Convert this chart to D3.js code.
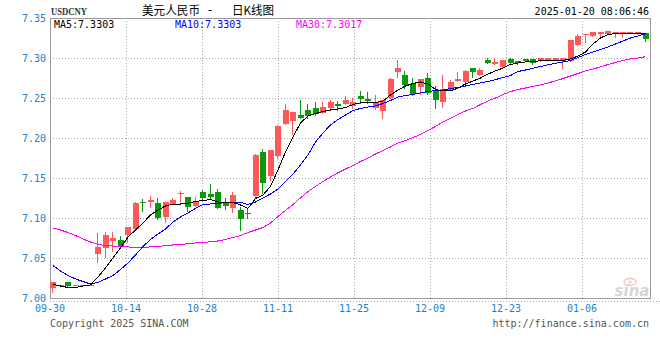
<!DOCTYPE html>
<html>
<head>
<meta charset="utf-8">
<script src="https://cdn.jsdelivr.net/npm/d3@7"></script>
<style>
body { margin: 0; background: #fff; }
svg { display: block; }
</style>
</head>
<body>
<svg width="660" height="360"></svg>
<script>
var opens = [7.0129,7.0159,7.0200,7.0159,7.0159,7.0159,7.0546,7.0629,7.0716,7.0725,
    7.0784,7.0859,7.1200,7.1204,7.1191,7.1016,7.1175,7.1296,7.1259,7.1154,
    7.1321,7.1300,7.1325,7.1196,7.1129,7.1100,7.1066,7.1275,7.1829,7.1525,
    7.1779,7.2175,7.2216,7.2288,7.2350,7.2371,7.2309,7.2381,7.2428,7.2428,
    7.2394,7.2525,7.2488,7.2381,7.2340,7.2503,7.2829,7.2788,7.2671,7.2634,
    7.2746,7.2600,7.2454,7.2596,7.2715,7.2704,7.2871,7.2788,7.2975,7.2931,
    7.2890,7.2988,7.2963,7.2988,7.2988,7.2966,7.2966,7.2975,7.2966,7.2966,
    7.3163,7.3288,7.3279,7.3300,7.3300,7.3300,7.3300,7.3309,7.3300,7.3309];
var highs = [7.0200,7.0159,7.0200,7.0159,7.0159,7.0159,7.0809,7.0829,7.0821,7.0775,
    7.0891,7.1204,7.1238,7.1279,7.1246,7.1204,7.1254,7.1338,7.1259,7.1259,
    7.1350,7.1425,7.1359,7.1246,7.1321,7.1141,7.1113,7.1800,7.1863,7.1850,
    7.2163,7.2425,7.2325,7.2475,7.2419,7.2450,7.2450,7.2475,7.2463,7.2525,
    7.2500,7.2584,7.2575,7.2541,7.2471,7.2750,7.2975,7.2838,7.2746,7.2735,
    7.2816,7.2650,7.2788,7.2725,7.2829,7.2850,7.2871,7.2871,7.3004,7.3004,
    7.2981,7.3004,7.2963,7.2988,7.2988,7.3004,7.3004,7.3004,7.3004,7.3225,
    7.3300,7.3306,7.3321,7.3321,7.3338,7.3321,7.3321,7.3321,7.3321,7.3309];
var lows = [7.0079,7.0159,7.0154,7.0159,7.0159,7.0159,7.0454,7.0516,7.0591,7.0621,
    7.0704,7.0850,7.1091,7.1141,7.0984,7.0954,7.1175,7.1216,7.1088,7.1154,
    7.1225,7.1246,7.1121,7.1113,7.1079,7.0850,7.0996,7.1246,7.1309,7.1475,
    7.1746,7.2175,7.2046,7.2246,7.2246,7.2288,7.2309,7.2360,7.2346,7.2428,
    7.2371,7.2440,7.2434,7.2365,7.2256,7.2503,7.2766,7.2621,7.2538,7.2544,
    7.2550,7.2378,7.2384,7.2596,7.2715,7.2704,7.2766,7.2788,7.2941,7.2931,
    7.2890,7.2931,7.2921,7.2966,7.2921,7.2966,7.2966,7.2975,7.2879,7.2966,
    7.3163,7.3204,7.3279,7.3279,7.3300,7.3266,7.3266,7.3309,7.3300,7.3216];
var closes = [7.0200,7.0159,7.0154,7.0159,7.0159,7.0159,7.0634,7.0788,7.0754,7.0654,
    7.0891,7.1191,7.1184,7.1225,7.1004,7.1204,7.1225,7.1313,7.1141,7.1204,
    7.1254,7.1266,7.1129,7.1154,7.1288,7.0988,7.1046,7.1788,7.1434,7.1850,
    7.2150,7.2350,7.2325,7.2254,7.2275,7.2300,7.2388,7.2446,7.2406,7.2475,
    7.2450,7.2488,7.2466,7.2448,7.2471,7.2738,7.2879,7.2666,7.2548,7.2735,
    7.2559,7.2479,7.2609,7.2700,7.2738,7.2841,7.2825,7.2850,7.2941,7.2950,
    7.2981,7.2941,7.2934,7.2966,7.2941,7.3004,7.3004,7.3004,7.3004,7.3225,
    7.3279,7.3300,7.3321,7.3321,7.3338,7.3321,7.3321,7.3321,7.3321,7.3238];

var ma5 = [7.0169,7.0150,7.0131,7.0131,7.0150,7.0163,7.0263,7.0375,7.0500,7.0625,
    7.0763,7.0850,7.0938,7.1038,7.1100,7.1150,7.1175,7.1175,7.1184,7.1206,
    7.1219,7.1231,7.1200,7.1196,7.1194,7.1163,7.1121,7.1244,7.1288,7.1394,
    7.1600,7.1825,7.2013,7.2188,7.2275,7.2306,7.2331,7.2350,7.2363,7.2381,
    7.2419,7.2438,7.2450,7.2444,7.2463,7.2538,7.2600,7.2650,7.2681,7.2700,
    7.2675,7.2606,7.2588,7.2588,7.2625,7.2675,7.2713,7.2750,7.2800,7.2838,
    7.2875,7.2919,7.2938,7.2950,7.2956,7.2966,7.2969,7.2963,7.2969,7.2988,
    7.3025,7.3075,7.3175,7.3250,7.3294,7.3306,7.3306,7.3306,7.3306,7.3303];
var ma10 = [7.0406,7.0338,7.0281,7.0238,7.0206,7.0175,7.0194,7.0238,7.0281,7.0356,
    7.0438,7.0538,7.0644,7.0731,7.0800,7.0863,7.0950,7.1013,7.1063,7.1119,
    7.1169,7.1175,7.1184,7.1191,7.1200,7.1196,7.1169,7.1200,7.1250,7.1300,
    7.1363,7.1456,7.1550,7.1663,7.1788,7.1950,7.2063,7.2163,7.2231,7.2288,
    7.2344,7.2369,7.2388,7.2400,7.2431,7.2469,7.2513,7.2531,7.2544,7.2563,
    7.2581,7.2594,7.2600,7.2619,7.2631,7.2650,7.2669,7.2688,7.2706,7.2731,
    7.2756,7.2781,7.2831,7.2850,7.2871,7.2894,7.2915,7.2934,7.2950,7.2969,
    7.3006,7.3044,7.3075,7.3106,7.3138,7.3175,7.3213,7.3250,7.3275,7.3303];
var ma30 = [7.0875,7.0850,7.0819,7.0781,7.0738,7.0700,7.0671,7.0656,7.0650,7.0641,
    7.0638,7.0634,7.0634,7.0638,7.0646,7.0653,7.0663,7.0671,7.0678,7.0688,
    7.0694,7.0703,7.0713,7.0731,7.0756,7.0781,7.0819,7.0850,7.0881,7.0938,
    7.1019,7.1094,7.1169,7.1250,7.1331,7.1394,7.1456,7.1513,7.1566,7.1613,
    7.1656,7.1706,7.1750,7.1800,7.1844,7.1888,7.1938,7.1969,7.2006,7.2044,
    7.2094,7.2144,7.2200,7.2244,7.2294,7.2338,7.2369,7.2419,7.2463,7.2500,
    7.2544,7.2581,7.2606,7.2625,7.2644,7.2663,7.2688,7.2713,7.2744,7.2775,
    7.2806,7.2838,7.2863,7.2888,7.2919,7.2944,7.2969,7.2988,7.3000,7.3017];

var tickLabels = ["09-30","10-14","10-28","11-11","11-25","12-09","12-23","01-06"];
var tickIndex = [0,10,20,30,40,50,60,70];
var yTicks = [7.00,7.05,7.10,7.15,7.20,7.25,7.30,7.35];

var plotLeft = 50, plotRight = 650, plotTop = 18, plotBottom = 298;
var mono = "'DejaVu Sans Mono', monospace";
var upColor = "#ff5858", downColor = "#0a990a";

var svg = d3.select("svg");

var x = d3.scaleLinear().domain([0, closes.length - 1]).range([53, 645.5]);
var y = d3.scaleLinear().domain([7.00, 7.35]).range([plotBottom, plotTop]);
// the date grid drifts a little against the candles in the original
var xGrid = d3.scaleLinear().domain([0, 70]).range([50, 582]);

// grid
svg.append("g").selectAll("line")
    .data(yTicks.slice(1, -1))
    .join("line")
    .attr("x1", plotLeft).attr("x2", plotRight)
    .attr("y1", d => Math.round(y(d)) + 0.5).attr("y2", d => Math.round(y(d)) + 0.5)
    .attr("stroke", "#aaa").attr("stroke-dasharray", "1,2");

svg.append("g").selectAll("line")
    .data(tickIndex.slice(1))
    .join("line")
    .attr("x1", d => Math.round(xGrid(d)) + 0.5).attr("x2", d => Math.round(xGrid(d)) + 0.5)
    .attr("y1", plotTop).attr("y2", plotBottom)
    .attr("stroke", "#aaa").attr("stroke-dasharray", "1,2");

// frame
svg.append("rect")
    .attr("x", plotLeft + 0.5).attr("y", plotTop + 0.5)
    .attr("width", plotRight - plotLeft).attr("height", plotBottom - plotTop)
    .attr("fill", "none").attr("stroke", "#999");
svg.append("line")
    .attr("x1", plotLeft).attr("x2", plotRight + 10)
    .attr("y1", plotBottom + 3.5).attr("y2", plotBottom + 3.5)
    .attr("stroke", "#aaa").attr("stroke-dasharray", "1,2");

// sina logo
var logo = svg.append("g").attr("opacity", 0.4);
logo.append("ellipse").attr("cx", 630).attr("cy", 282).attr("rx", 6).attr("ry", 3.5)
    .attr("fill", "none").attr("stroke", "#e07070").attr("stroke-width", 1.5);
logo.append("circle").attr("cx", 630).attr("cy", 282).attr("r", 1.5).attr("fill", "#e07070");
logo.append("text").attr("x", 632).attr("y", 296)
    .attr("text-anchor", "middle")
    .style("font", "italic bold 15px 'DejaVu Sans', sans-serif")
    .attr("fill", "#999").text("sina");

// y axis labels
svg.append("g").selectAll("text")
    .data(yTicks)
    .join("text")
    .attr("x", 46).attr("y", d => y(d) + 4)
    .attr("text-anchor", "end")
    .style("font", "10px " + mono)
    .attr("fill", "#1a82cc")
    .text(d => d.toFixed(2));

// x axis labels
svg.append("g").selectAll("text")
    .data(tickIndex)
    .join("text")
    .attr("x", d => xGrid(d)).attr("y", 312)
    .attr("text-anchor", "middle")
    .style("font", "10px " + mono)
    .attr("fill", "#1a82cc")
    .text((d, i) => tickLabels[i]);

// candles
var idx = d3.range(closes.length);
var candles = svg.append("g").selectAll("g")
    .data(idx)
    .join("g")
    .attr("fill", i => closes[i] >= opens[i] ? upColor : downColor)
    .attr("stroke", i => closes[i] >= opens[i] ? upColor : downColor);

candles.append("line")
    .attr("x1", i => Math.round(x(i)) - 0.5).attr("x2", i => Math.round(x(i)) - 0.5)
    .attr("y1", i => Math.round(y(highs[i]))).attr("y2", i => Math.round(y(lows[i])) + 1)
    .attr("stroke-width", 1);

candles.append("rect")
    .attr("x", i => Math.round(x(i)) - 3)
    .attr("width", 6)
    .attr("y", i => Math.round(y(Math.max(opens[i], closes[i]))))
    .attr("height", i => Math.max(1, Math.round(y(Math.min(opens[i], closes[i]))) - Math.round(y(Math.max(opens[i], closes[i])))))
    .attr("stroke", "none");

// moving averages, drawn aliased like the original gif
function maLine(values, color) {
    var line = d3.line()
        .x((d, i) => x(i))
        .y(d => y(d));
    svg.append("path")
        .attr("d", line(values))
        .attr("fill", "none")
        .attr("stroke", color)
        .attr("stroke-width", 1)
        .attr("shape-rendering", "crispEdges");
}
maLine(ma30, "#ff00ff");
maLine(ma10, "#0000ff");
maLine(ma5, "#000000");

// header
svg.append("text").attr("x", 51).attr("y", 15)
    .attr("textLength", 36).attr("lengthAdjust", "spacingAndGlyphs")
    .style("font", "bold 10px 'Liberation Serif', serif")
    .attr("fill", "#333").text("USDCNY");

var cjk = "'Noto Sans CJK SC', sans-serif";
svg.append("text").attr("x", 142).attr("y", 15)
    .attr("textLength", 58).attr("lengthAdjust", "spacingAndGlyphs")
    .style("font", "12px " + cjk).attr("fill", "#000").text("美元人民币");
svg.append("text").attr("x", 210).attr("y", 14)
    .attr("text-anchor", "middle")
    .style("font", "12px " + mono).attr("fill", "#000").text("-");
svg.append("text").attr("x", 232).attr("y", 15)
    .attr("textLength", 42).attr("lengthAdjust", "spacingAndGlyphs")
    .style("font", "12px " + cjk).attr("fill", "#000").text("日K线图");

svg.append("text").attr("x", 649).attr("y", 15)
    .attr("text-anchor", "end")
    .style("font", "10px " + mono).attr("fill", "#000")
    .text("2025-01-20 08:06:46");

var legend = [
    {label: "MA5:" + ma5[ma5.length - 1].toFixed(4), color: "#000", x: 54},
    {label: "MA10:" + ma10[ma10.length - 1].toFixed(4), color: "#0000ff", x: 175},
    {label: "MA30:" + ma30[ma30.length - 1].toFixed(4), color: "#ff00ff", x: 296}
];
svg.append("g").selectAll("text")
    .data(legend)
    .join("text")
    .attr("x", d => d.x).attr("y", 28)
    .style("font", "10px " + mono)
    .attr("fill", d => d.color)
    .text(d => d.label);

// footer
svg.append("text").attr("x", 50).attr("y", 327)
    .style("font", "10px " + mono).attr("fill", "#555")
    .text("Copyright 2025 SINA.COM");
svg.append("text").attr("x", 649).attr("y", 327)
    .attr("text-anchor", "end")
    .style("font", "10px " + mono).attr("fill", "#555")
    .text("http://finance.sina.com.cn");
</script>
</body>
</html>
